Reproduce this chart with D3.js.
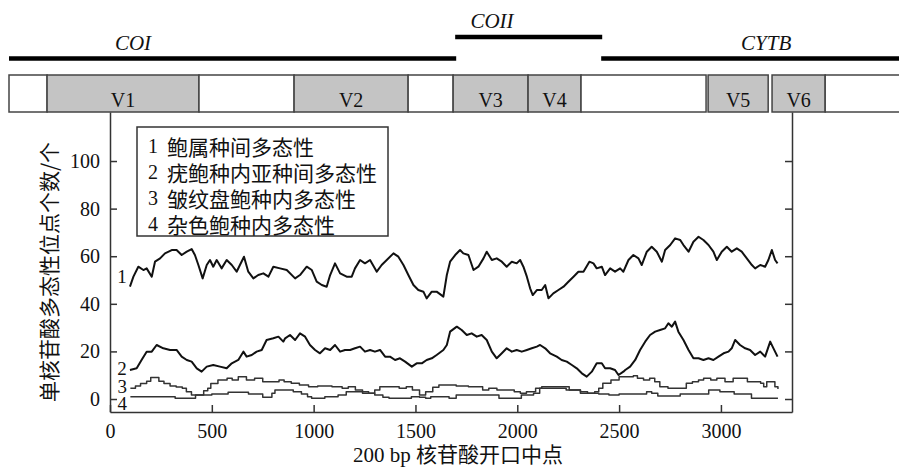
<!DOCTYPE html>
<html lang="zh">
<head>
  <meta charset="utf-8">
  <title>单核苷酸多态性位点滑动窗口</title>
  <style>
    body {
      margin: 0;
      background: #fff;
    }

    .serif {
      font-family: 'Liberation Serif', 'Times New Roman', serif;
    }

    .cjk {
      font-family: 'Noto Sans CJK SC', sans-serif;
    }

    .axis path, .axis line {
      stroke: #333;
      stroke-width: 1.5;
    }

    .axis text {
      font-family: 'Liberation Serif', 'Times New Roman', serif;
      font-size: 20px;
      fill: #111;
    }
  </style>
</head>
<body>
  <div id="chart"></div>

  <script src="https://d3js.org/d3.v7.min.js"></script>
  <script>
    // Window midpoints (bp) and polymorphic site counts
    var s1x = [98, 115, 139, 164, 180, 205, 221, 246, 270, 303, 327, 352, 377, 401, 417, 434, 455, 475, 491, 507,
      524, 548, 573, 598, 622, 638, 658, 679, 704, 728, 753, 778, 802, 835, 868, 909, 933, 966, 991, 1015,
      1040, 1064, 1081, 1105, 1130, 1162, 1187, 1203, 1228, 1252, 1277, 1310, 1334, 1359, 1392, 1416, 1441, 1465, 1490, 1514,
      1539, 1555, 1580, 1604, 1637, 1654, 1670, 1695, 1719, 1735, 1760, 1785, 1809, 1834, 1850, 1875, 1899, 1924, 1948, 1973,
      1997, 2014, 2030, 2047, 2063, 2076, 2096, 2120, 2137, 2153, 2177, 2202, 2227, 2251, 2276, 2300, 2325, 2354, 2374, 2390,
      2415, 2431, 2456, 2480, 2505, 2521, 2546, 2570, 2595, 2611, 2636, 2660, 2685, 2710, 2726, 2751, 2775, 2800, 2816, 2841,
      2865, 2890, 2914, 2939, 2963, 2980, 3004, 3029, 3053, 3078, 3102, 3127, 3152, 3168, 3193, 3217, 3233, 3250, 3266, 3278];
    var s1y = [47.2, 51.4, 55.6, 54.2, 54.9, 51.4, 57.7, 59.1, 61.2, 62.6, 62.6, 60.5, 61.9, 63, 60.5, 56.3, 50.7, 56.3, 58.4, 55.6,
      58.4, 54.9, 58.4, 56.3, 53.5, 56.3, 59.8, 53.5, 50.7, 52.1, 52.8, 51.4, 55.6, 54.9, 54.2, 50.7, 52.1, 55.6, 54.2, 49.3,
      47.9, 47.2, 52.1, 57, 52.8, 51.4, 51.4, 54.9, 58.4, 57, 58.4, 53.5, 56.3, 58.4, 61.2, 59.8, 56.3, 52.1, 47.9, 45.8,
      45.1, 42.3, 45.1, 45.1, 43, 52.1, 57.7, 60.5, 62.6, 61.2, 60.5, 54.2, 55.6, 59.1, 61.9, 58.4, 59.1, 57.7, 55.6, 57.7,
      57, 58.4, 55.6, 51.4, 46.5, 43.7, 45.8, 45.8, 47.9, 42.3, 44.4, 45.8, 47.2, 49.3, 51.4, 53.5, 53.5, 57.7, 57, 54.9,
      55.6, 52.1, 54.9, 53.5, 54.9, 53.5, 58.4, 60.5, 59.1, 56.3, 61.9, 64, 61.9, 57.7, 62.6, 64.7, 67.5, 66.8, 64.7, 61.9,
      66.1, 68.2, 66.8, 64.7, 61.9, 58.4, 61.9, 64, 61.9, 63.3, 61.9, 59.1, 56.3, 54.9, 56.3, 55.6, 58.4, 62.6, 58.4, 57];

    var s2x = [98, 131, 155, 180, 205, 229, 262, 295, 327, 352, 377, 401, 426, 450, 475, 507, 540, 573, 598, 630,
      655, 671, 696, 720, 745, 769, 802, 827, 851, 860, 884, 909, 933, 958, 982, 1007, 1031, 1056, 1081, 1105,
      1130, 1154, 1179, 1203, 1228, 1252, 1277, 1301, 1326, 1351, 1375, 1400, 1424, 1449, 1482, 1506, 1531, 1555, 1580, 1604,
      1637, 1654, 1670, 1703, 1727, 1752, 1776, 1801, 1825, 1850, 1875, 1899, 1924, 1948, 1973, 1997, 2022, 2047, 2071, 2096,
      2112, 2137, 2161, 2194, 2218, 2243, 2268, 2292, 2317, 2341, 2366, 2390, 2415, 2431, 2456, 2480, 2497, 2521, 2530, 2554,
      2579, 2603, 2628, 2652, 2677, 2701, 2726, 2742, 2759, 2775, 2791, 2816, 2841, 2865, 2890, 2914, 2939, 2963, 2988, 3013,
      3037, 3053, 3070, 3094, 3119, 3143, 3168, 3193, 3217, 3242, 3258, 3278];
    var s2y = [12.2, 12.9, 16.4, 19.9, 19.9, 22.7, 21.3, 20.6, 20.6, 17.8, 16.4, 15.7, 12.9, 11.5, 13.6, 14.3, 13.6, 12.9, 15, 16.4,
      19.9, 17.8, 18.5, 19.9, 20.6, 24.8, 25.5, 26.2, 24.1, 25.5, 26.9, 24.8, 27.6, 26.2, 22.7, 20.6, 19.2, 21.3, 20.6, 22.7,
      19.9, 20.6, 20.6, 21.3, 22, 19.9, 20.6, 19.9, 20.6, 17.8, 17.8, 16.4, 17.1, 15.7, 13.6, 15, 15, 16.4, 17.1, 18.5,
      20.6, 22.7, 28.3, 30.4, 29, 26.9, 27.6, 26.2, 26.9, 24.8, 19.9, 17.1, 19.2, 21.3, 19.9, 20.6, 19.9, 20.6, 21.3, 22,
      22.7, 21.3, 19.2, 17.8, 16.4, 15.7, 14.3, 12.9, 10.8, 9.4, 11.5, 15, 15, 12.9, 12.9, 12.2, 10.1, 11.5, 12.2, 13.6,
      16.4, 20.6, 24.1, 26.9, 28.3, 29, 29.7, 31.8, 30.4, 32.5, 28.3, 24.8, 20.6, 17.1, 17.1, 16.4, 17.1, 16.4, 17.8, 19.2,
      19.9, 21.3, 24.8, 22.7, 21.3, 20.6, 18.5, 19.9, 17.8, 24.1, 21.3, 17.8];

    // Series 3 and 4 are step-like (integer counts)
    var s3x = [100, 125, 150, 180, 200, 240, 265, 295, 325, 355, 375, 400, 460, 480, 495, 530, 575, 600, 630, 670,
      710, 750, 800, 830, 855, 890, 930, 975, 1020, 1090, 1140, 1170, 1205, 1240, 1270, 1300, 1325, 1380, 1420, 1455,
      1485, 1520, 1550, 1585, 1615, 1700, 1760, 1830, 1860, 1900, 1950, 1985, 2015, 2045, 2090, 2120, 2230, 2255, 2310, 2345,
      2380, 2400, 2420, 2460, 2500, 2570, 2590, 2620, 2650, 2675, 2700, 2740, 2800, 2830, 2860, 2890, 2915, 2950, 2980, 3020,
      3060, 3090, 3130, 3160, 3195, 3210, 3225, 3255, 3265, 3280];
    var s3y = [4.5, 5.5, 6.5, 7.5, 9, 7.5, 6.5, 5.5, 5, 4.5, 3, 1.7, 3.5, 4.5, 6.5, 8, 8.7, 8, 9.4, 8,
      8.7, 7.3, 7.3, 8, 7.3, 6.6, 5.9, 5.2, 5.5, 5.2, 4.5, 5.2, 3.8, 3.1, 2.4, 3.8, 5.2, 5.2, 4.5, 5.2,
      3.8, 1.7, 3.1, 4.9, 5.9, 5.5, 5.2, 3.8, 4.5, 3.8, 3.8, 3.1, 2.4, 3.1, 4.5, 5.2, 5.2, 3.8, 3.1, 2.4,
      3.1, 4.5, 6.6, 8, 9.4, 9.8, 8.7, 8, 8.7, 7.3, 5.2, 4.5, 4.5, 6.6, 7.3, 8, 8.7, 8, 8.7, 7.3,
      8.7, 8.7, 7.3, 7.3, 6.6, 5.2, 7.3, 7.3, 5.2, 4.2];

    var s4x = [100, 310, 320, 400, 420, 470, 500, 560, 580, 650, 680, 730, 750, 785, 795, 810, 880, 900, 940, 970,
      990, 1040, 1055, 1100, 1120, 1160, 1240, 1300, 1340, 1370, 1460, 1480, 1520, 1550, 1575, 1650, 1665, 1700, 1890, 1910,
      2000, 2020, 2080, 2110, 2220, 2240, 2310, 2400, 2450, 2500, 2620, 2635, 2660, 2690, 2785, 2800, 2930, 2940, 2980, 2995,
      3040, 3065, 3140, 3150, 3280];
    var s4y = [1, 1, 0.3, 0.3, 1.7, 1.7, 2.1, 2.1, 2.8, 2.8, 2.1, 2.1, 0.7, 0.7, 2.4, 3.8, 3.8, 3.1, 2.1, 1,
      0.3, 0.3, 1, 1, 1.7, 3.1, 2.4, 1.7, 0.7, 0.3, 0.3, 1, 0.7, 0.3, 1, 1, 0.3, 1.7, 1.7, 0.3,
      0.3, 1.7, 2.4, 4.5, 4.5, 3.8, 2.4, 2.1, 1.7, 2.1, 2.1, 3.1, 2.4, 1.3, 1.3, 2.1, 2.1, 3.8, 3.8, 3.1,
      3.1, 2.1, 2.1, 0.3, 0.3];

    // Variable regions along the alignment (bp)
    var regionStart = [-496, -309, 437, 904, 1464, 1685, 2053, 2313, 2937, 3251, 3512];
    var regionEnd = [-309, 437, 904, 1464, 1685, 2053, 2313, 2927, 3232, 3512, 3900];
    var regionLabel = ["", "V1", "", "V2", "", "V3", "V4", "", "V5", "V6", ""];

    // Genes (bp)
    var geneName = ["COI", "COII", "CYTB"];
    var geneStart = [-496, 1695, 2412];
    var geneEnd = [1700, 2417, 3900];
    var geneLabelAt = [113, 1876, 3222];
    var geneRaised = [false, true, false];

    var legendItems = ["鲍属种间多态性", "疣鲍种内亚种间多态性", "皱纹盘鲍种内多态性", "杂色鲍种内多态性"];
    var xTicks = [0, 500, 1000, 1500, 2000, 2500, 3000];
    var yTicks = [0, 20, 40, 60, 80, 100];

    var width = 899, height = 468;

    var svg = d3.select("#chart")
      .append("svg")
      .attr("width", width)
      .attr("height", height);

    var xScale = d3.scaleLinear().domain([0, 3349]).range([110, 792]);
    var yScale = d3.scaleLinear().domain([-5.46, 120.6]).range([412, 112]);

    // Gene lines
    for (var g = 0; g < geneName.length; g++) {
      var gy = geneRaised[g] ? 37 : 58.5;
      svg.append("line")
        .attr("x1", Math.max(9, xScale(geneStart[g])))
        .attr("x2", Math.min(width + 5, xScale(geneEnd[g])))
        .attr("y1", gy)
        .attr("y2", gy)
        .attr("stroke", "#000")
        .attr("stroke-width", 4.5);
      svg.append("text")
        .attr("class", "serif")
        .attr("x", xScale(geneLabelAt[g]))
        .attr("y", gy - 9)
        .attr("text-anchor", "middle")
        .style("font-style", "italic")
        .style("font-size", "21px")
        .attr("fill", "#111")
        .text(geneName[g]);
    }

    // Variable region boxes
    for (var r = 0; r < regionStart.length; r++) {
      var rx0 = Math.max(9, xScale(regionStart[r]));
      var rx1 = Math.min(width + 5, xScale(regionEnd[r]));
      svg.append("rect")
        .attr("x", rx0)
        .attr("y", 75)
        .attr("width", rx1 - rx0)
        .attr("height", 37)
        .attr("fill", regionLabel[r] ? "#c4c4c4" : "#fff")
        .attr("stroke", "#444")
        .attr("stroke-width", 1.5);
      if (regionLabel[r]) {
        svg.append("text")
          .attr("class", "serif")
          .attr("x", (rx0 + rx1) / 2)
          .attr("y", 107)
          .attr("text-anchor", "middle")
          .style("font-size", "20px")
          .attr("fill", "#111")
          .text(regionLabel[r]);
      }
    }

    // Axes (ticks pointing inward)
    svg.append("g")
      .attr("class", "axis")
      .attr("transform", "translate(0,412)")
      .call(d3.axisBottom(xScale).tickValues(xTicks).tickFormat(d3.format("d"))
        .tickSizeInner(-7).tickSizeOuter(0).tickPadding(12));

    svg.append("g")
      .attr("class", "axis")
      .attr("transform", "translate(110,0)")
      .call(d3.axisLeft(yScale).tickValues(yTicks).tickFormat(d3.format("d"))
        .tickSizeInner(-7).tickSizeOuter(0).tickPadding(10));

    svg.append("g")
      .attr("class", "axis")
      .attr("transform", "translate(792,0)")
      .call(d3.axisRight(yScale).tickValues(yTicks).tickSizeInner(-7).tickSizeOuter(0).tickFormat(""));

    // Series lines
    var series = [
      { x: s1x, y: s1y, w: 2, color: "#111", curve: d3.curveLinear, dy: -10 },
      { x: s2x, y: s2y, w: 2, color: "#111", curve: d3.curveLinear, dy: -1 },
      { x: s3x, y: s3y, w: 1.5, color: "#333", curve: d3.curveStepAfter, dy: -2 },
      { x: s4x, y: s4y, w: 1.5, color: "#333", curve: d3.curveStepAfter, dy: 7 }
    ];

    series.forEach(function(s, i) {
      var pts = s.x.map(function(d, j) { return [d, s.y[j]]; });
      var line = d3.line()
        .x(function(d) { return xScale(d[0]); })
        .y(function(d) { return yScale(d[1]); })
        .curve(s.curve);
      svg.append("path")
        .attr("d", line(pts))
        .attr("fill", "none")
        .attr("stroke", s.color)
        .attr("stroke-width", s.w)
        .attr("stroke-linejoin", "round");

      svg.append("text")
        .attr("class", "serif")
        .attr("x", xScale(s.x[0]) - 8)
        .attr("y", yScale(s.y[0]) + s.dy)
        .attr("text-anchor", "middle")
        .attr("dominant-baseline", "central")
        .style("font-size", "19px")
        .attr("fill", "#111")
        .text(i + 1);
    });

    // Legend
    svg.append("rect")
      .attr("x", 137)
      .attr("y", 127)
      .attr("width", 251)
      .attr("height", 109)
      .attr("fill", "#fff")
      .attr("stroke", "#333")
      .attr("stroke-width", 1.5);

    legendItems.forEach(function(d, i) {
      var cy = 145.5 + i * 26.2;
      svg.append("text")
        .attr("class", "serif")
        .attr("x", 148)
        .attr("y", cy)
        .attr("dominant-baseline", "central")
        .style("font-size", "20px")
        .attr("fill", "#111")
        .text(i + 1);
      svg.append("text")
        .attr("class", "cjk")
        .attr("x", 167)
        .attr("y", cy)
        .attr("dominant-baseline", "central")
        .style("font-size", "21px")
        .attr("fill", "#111")
        .text(d);
    });

    // Axis titles
    var xTitle = svg.append("text")
      .attr("x", 458)
      .attr("y", 462)
      .attr("text-anchor", "middle")
      .attr("fill", "#111")
      .style("font-size", "21px");
    xTitle.append("tspan").attr("class", "serif").text("200 bp ");
    xTitle.append("tspan").attr("class", "cjk").text("核苷酸开口中点");

    svg.append("text")
      .attr("class", "cjk")
      .attr("transform", "translate(48,272) rotate(-90)")
      .attr("text-anchor", "middle")
      .attr("dominant-baseline", "central")
      .attr("fill", "#111")
      .style("font-size", "21px")
      .text("单核苷酸多态性位点个数/个");
  </script>
</body>
</html>
